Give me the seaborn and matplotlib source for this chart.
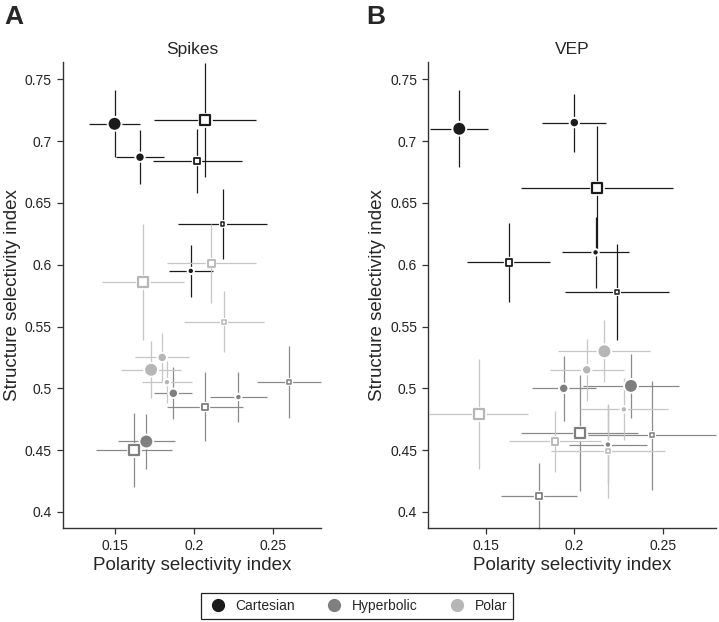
# Structure vs polarity selectivity, Spikes (A) and VEP (B)
import numpy as np
import pandas as pd
import matplotlib
matplotlib.use("Agg")
import matplotlib.pyplot as plt
import seaborn as sns
from matplotlib.lines import Line2D

# ---------------------------------------------------------------------
# Data
# ---------------------------------------------------------------------
categories = ["Cartesian"] * 6 + ["Hyperbolic"] * 6 + ["Polar"] * 6
shapes = (["circle"] * 3 + ["square"] * 3) * 3
size_class = ["L", "M", "S"] * 6

spikes_x = [0.150, 0.166, 0.198, 0.207, 0.202, 0.218,
            0.170, 0.187, 0.228, 0.162, 0.207, 0.260,
            0.173, 0.180, 0.183, 0.168, 0.211, 0.219]
spikes_y = [0.714, 0.687, 0.595, 0.717, 0.684, 0.633,
            0.457, 0.496, 0.493, 0.450, 0.485, 0.505,
            0.515, 0.525, 0.505, 0.586, 0.601, 0.554]
spikes_xerr = [0.016, 0.015, 0.014, 0.032, 0.028, 0.028,
               0.018, 0.012, 0.018, 0.024, 0.024, 0.020,
               0.019, 0.017, 0.016, 0.026, 0.028, 0.025]
spikes_yerr = [0.027, 0.022, 0.021, 0.046, 0.026, 0.028,
               0.022, 0.021, 0.020, 0.030, 0.028, 0.029,
               0.023, 0.020, 0.017, 0.047, 0.032, 0.025]

vep_x = [0.135, 0.200, 0.212, 0.213, 0.163, 0.224,
         0.232, 0.194, 0.219, 0.203, 0.180, 0.244,
         0.217, 0.207, 0.228, 0.146, 0.189, 0.219]
vep_y = [0.710, 0.715, 0.610, 0.662, 0.602, 0.578,
         0.502, 0.500, 0.4545, 0.464, 0.413, 0.462,
         0.530, 0.515, 0.483, 0.479, 0.457, 0.449]
vep_xerr = [0.0165, 0.018, 0.019, 0.043, 0.0235, 0.0295,
            0.027, 0.018, 0.022, 0.033, 0.0215, 0.036,
            0.026, 0.021, 0.025, 0.028, 0.026, 0.032]
vep_yerr = [0.031, 0.0235, 0.029, 0.050, 0.032, 0.0385,
            0.026, 0.0265, 0.032, 0.047, 0.0265, 0.044,
            0.025, 0.025, 0.025, 0.0445, 0.0245, 0.038]

xtick_vals = [0.15, 0.2, 0.25]
xtick_labels = ["0.15", "0.2", "0.25"]
ytick_vals = [0.4, 0.45, 0.5, 0.55, 0.6, 0.65, 0.7, 0.75]
ytick_labels = ["0.4", "0.45", "0.5", "0.55", "0.6", "0.65", "0.7", "0.75"]

cat_order = ["Cartesian", "Hyperbolic", "Polar"]
marker_colours = {"Cartesian": "#1b1b1b", "Hyperbolic": "#7f7f7f", "Polar": "#b6b6b6"}
bar_colours = {"Cartesian": "#1b1b1b", "Hyperbolic": "#8a8a8a", "Polar": "#c6c6c6"}

circle_sizes = {"L": 100, "M": 46, "S": 21}
square_sizes = {"L": 54, "M": 23, "S": 8}
square_lw = {"L": 1.6, "M": 1.3, "S": 1.1}


def make_df(x, y, xerr, yerr):
    return pd.DataFrame({"cat": categories, "shape": shapes, "size": size_class,
                         "x": x, "y": y, "xerr": xerr, "yerr": yerr})


spikes = make_df(spikes_x, spikes_y, spikes_xerr, spikes_yerr)
vep = make_df(vep_x, vep_y, vep_xerr, vep_yerr)

# ---------------------------------------------------------------------
# Style
# ---------------------------------------------------------------------
sns.set_style("ticks")
plt.rcParams["font.family"] = ["Liberation Sans", "DejaVu Sans"]
plt.rcParams["axes.edgecolor"] = "#333333"
plt.rcParams["xtick.color"] = "#333333"
plt.rcParams["ytick.color"] = "#333333"
plt.rcParams["xtick.labelcolor"] = "#222222"
plt.rcParams["ytick.labelcolor"] = "#222222"

fig = plt.figure(figsize=(7.19, 6.22), dpi=100)
ax_a = fig.add_axes([0.0876, 0.1511, 0.3588, 0.7492])
ax_b = fig.add_axes([0.5957, 0.1511, 0.4000, 0.7492])


def draw_panel(ax, df, title):
    # error bars first
    for _, r in df.iterrows():
        cont = ax.errorbar(r["x"], r["y"], xerr=r["xerr"], yerr=r["yerr"], fmt="none",
                           ecolor=bar_colours[r["cat"]], elinewidth=0.9, capsize=0,
                           zorder=1)
        for art in cont.get_children():
            art.set_clip_on(False)

    # filled circles with a white halo
    circ = df[df["shape"] == "circle"]
    sns.scatterplot(data=circ, x="x", y="y", hue="cat", hue_order=cat_order,
                    palette=marker_colours, size="size", sizes=circle_sizes,
                    edgecolor="white", linewidth=1.4, legend=False, ax=ax,
                    zorder=3, clip_on=False)

    # open squares (white face, coloured edge)
    sq = df[df["shape"] == "square"]
    for k in ["L", "M", "S"]:
        part = sq[sq["size"] == k]
        # halo
        sns.scatterplot(data=part, x="x", y="y", color="white", marker="s",
                        s=square_sizes[k], edgecolor="white",
                        linewidth=square_lw[k] + 1.8, legend=False, ax=ax,
                        zorder=2, clip_on=False)
        sns.scatterplot(data=part, x="x", y="y", hue="cat", hue_order=cat_order,
                        palette=marker_colours, marker="s", s=square_sizes[k],
                        linewidth=square_lw[k], legend=False, ax=ax,
                        zorder=3, clip_on=False)
        coll = ax.collections[-1]
        coll.set_edgecolors(coll.get_facecolors())
        coll.set_facecolors("white")

    ax.set_xlim(0.1175, 0.28)
    ax.set_ylim(0.387, 0.764)
    ax.set_xticks(xtick_vals, labels=xtick_labels)
    ax.set_yticks(ytick_vals, labels=ytick_labels)
    ax.tick_params(axis="both", labelsize=10, length=4, width=0.9, pad=4)
    ax.set_xlabel("Polarity selectivity index", fontsize=13.5, labelpad=3)
    ax.set_ylabel("Structure selectivity index", fontsize=13.5, labelpad=3)
    ax.set_title(title, fontsize=12.5, pad=6)
    sns.despine(ax=ax)
    for s in ["left", "bottom"]:
        ax.spines[s].set_linewidth(1.0)


draw_panel(ax_a, spikes, "Spikes")
draw_panel(ax_b, vep, "VEP")

fig.text(0.006, 0.973, "A", fontsize=19, fontweight="bold", va="center", ha="left")
fig.text(0.510, 0.973, "B", fontsize=19, fontweight="bold", va="center", ha="left")

handles = [Line2D([], [], marker="o", linestyle="none", markersize=8.5,
                  markerfacecolor=marker_colours[c], markeredgecolor=marker_colours[c])
           for c in cat_order]
leg = fig.legend(handles, cat_order, loc="center", bbox_to_anchor=(0.497, 0.0257),
                 ncol=3, fontsize=10, frameon=True, fancybox=False, framealpha=1,
                 edgecolor="#222222", handlelength=1.5, handletextpad=0.5,
                 columnspacing=2.1, borderpad=0.45)
leg.get_frame().set_linewidth(0.9)

fig.savefig("out.png", dpi=100)
